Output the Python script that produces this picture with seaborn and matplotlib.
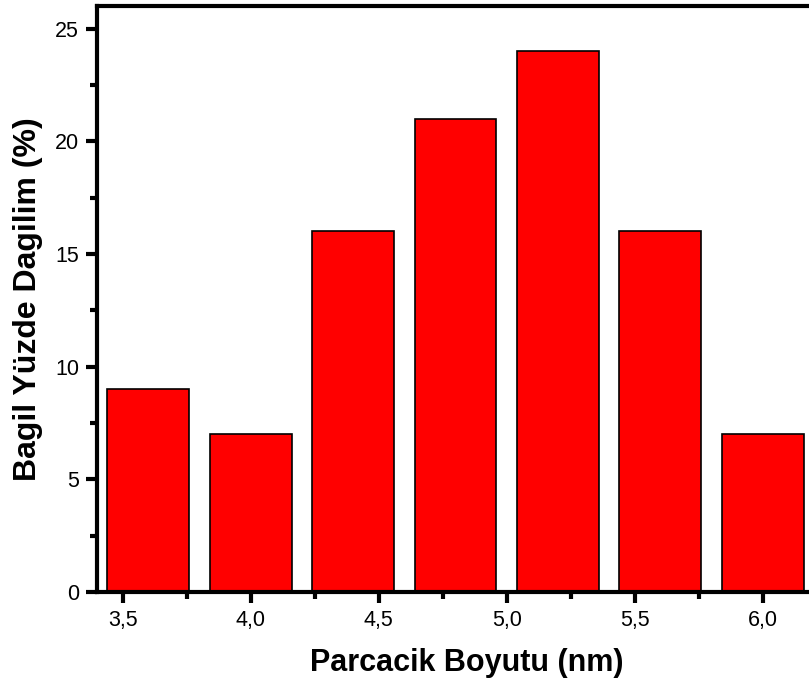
import matplotlib
matplotlib.use("Agg")
import matplotlib.pyplot as plt
import seaborn as sns
import pandas as pd
from matplotlib.ticker import MultipleLocator, FuncFormatter

sizes = [3.6, 4.0, 4.4, 4.8, 5.2, 5.6, 6.0]
percents = [9, 7, 16, 21, 24, 16, 7]
xticks = [3.5, 4.0, 4.5, 5.0, 5.5, 6.0]
yticks = [0, 5, 10, 15, 20, 25]

sns.set_style("ticks")
plt.rcParams['font.family'] = ['Liberation Sans', 'DejaVu Sans']

df = pd.DataFrame({"size": sizes, "pct": percents})

fig = plt.figure(figsize=(8.09, 6.85), dpi=100)
ax = fig.add_axes([97/809, 93/685, 717/809, 586/685])

sns.barplot(data=df, x="size", y="pct", native_scale=True, width=0.8,
            color="#ff0000", saturation=1, edgecolor="black", linewidth=1.2, ax=ax)

ax.set_xlim(3.4, 6.2)
ax.set_ylim(0, 26)
ax.set_xticks(xticks)
ax.set_yticks(yticks)
ax.xaxis.set_minor_locator(MultipleLocator(0.25))
ax.yaxis.set_minor_locator(MultipleLocator(2.5))
ax.xaxis.set_major_formatter(FuncFormatter(lambda v, p: f"{v:.1f}".replace(".", ",")))
ax.yaxis.set_major_formatter(FuncFormatter(lambda v, p: f"{v:g}"))

for s in ax.spines.values():
    s.set_linewidth(3)
    s.set_color("black")

ax.tick_params(which="major", direction="out", length=8, width=3, labelsize=15.5, pad=5,
               colors="black", labelcolor="black")
ax.tick_params(which="minor", direction="out", length=5, width=3, colors="black")

ax.set_xlabel("Parcacik Boyutu (nm)", fontsize=22, fontweight="bold", color="black")
ax.set_ylabel("Bagil Yüzde Dagilim (%)", fontsize=23, fontweight="bold", color="black")
ax.xaxis.label.set_va("center")
ax.yaxis.label.set_va("center")
ax.xaxis.set_label_coords(0.515, -0.121)
ax.yaxis.set_label_coords(-0.096, 0.5)

fig.savefig("out.png", dpi=100)
